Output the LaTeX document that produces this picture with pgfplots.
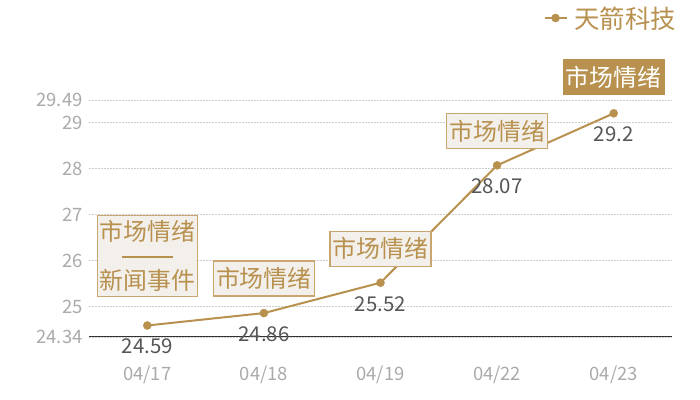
\documentclass[border=0pt]{standalone}
\usepackage{pgfplots}
\pgfplotsset{compat=1.18}
\usepackage{fontspec}
\setmainfont{Noto Sans CJK SC}

\definecolor{gold}{HTML}{B8914F}
\definecolor{boxfill}{HTML}{F3F0EB}
\definecolor{boxline}{HTML}{C9A570}
\definecolor{tickgray}{HTML}{AAAAAA}
\definecolor{labelgray}{HTML}{555555}
\definecolor{gridgray}{HTML}{CCCCCC}

\tikzset{
  mood/.style={draw=boxline, line width=1.2bp, fill=boxfill, text=gold,
    font=\fontsize{24}{24.5}\selectfont, inner sep=0pt,
    minimum width=101bp, minimum height=35bp},
}

\begin{document}
\begin{tikzpicture}
\useasboundingbox (0,0) rectangle (700bp,400bp);
\begin{axis}[
    at={(89bp,63bp)}, anchor=south west,
    scale only axis, width=583bp, height=237bp,
    xmin=-0.5, xmax=4.5,
    ymin=24.34, ymax=29.49,
    xtick={0,1,2,3,4},
    xticklabels={04/17,04/18,04/19,04/22,04/23},
    ytick={24.34,25,26,27,28,29,29.49},
    yticklabels={24.34,25,26,27,28,29,29.49},
    /pgf/number format/assume math mode=true,
    separate axis lines,
    axis x line*=bottom, axis y line*=left,
    x axis line style={-, draw=black!80, line width=1bp},
    y axis line style={draw=none},
    major tick length=0pt,
    ymajorgrids,
    grid style={draw=gridgray, dash pattern=on 1.5bp off 1.5bp, line width=0.7bp},
    yticklabel style={font=\fontsize{18.5}{20}\selectfont, text=tickgray, xshift=-3bp},
    xticklabel style={font=\fontsize{18.5}{20}\selectfont, text=tickgray, yshift=-25bp},
    clip=false,
    legend style={at={(1.004,1.346)}, anchor=east, xshift=4bp, draw=none, fill=none,
      font=\fontsize{25.5}{26}\selectfont, text=gold, inner sep=0pt,
      /tikz/every odd column/.append style={column sep=5bp}},
    legend image code/.code={
      \draw[#1, mark repeat=2, mark phase=2]
        plot coordinates {(0bp,0bp) (11bp,0bp) (22bp,0bp)};},
  ]
\addplot[gold, line width=2bp, mark=*, mark size=4bp,
    mark options={fill=gold, draw=gold, line width=0.5bp},
    nodes near coords,
    every node near coord/.append style={anchor=north, yshift=-10bp,
      font=\fontsize{20.5}{22}\selectfont, text=labelgray},
  ] coordinates {(0,24.59) (1,24.86) (2,25.52) (3,28.07) (4,29.2)};
\addlegendentry{天箭科技}

\node[mood, minimum height=81bp, minimum width=100bp, align=center]
  at (axis cs:0,24.59) [yshift=69.5bp]
  {市场情绪\\{\color{gold}\rule[0.3em]{51bp}{2bp}}\\新闻事件};
\node[mood] at (axis cs:1,24.86) [yshift=34.5bp] {市场情绪};
\node[mood] at (axis cs:2,25.52) [yshift=34bp] {市场情绪};
\node[mood] at (axis cs:3,28.07) [yshift=34.5bp] {市场情绪};
\node[mood, fill=gold, draw=gold, text=white] at (axis cs:4,29.2) [yshift=36bp] {市场情绪};
\end{axis}
\end{tikzpicture}
\end{document}
